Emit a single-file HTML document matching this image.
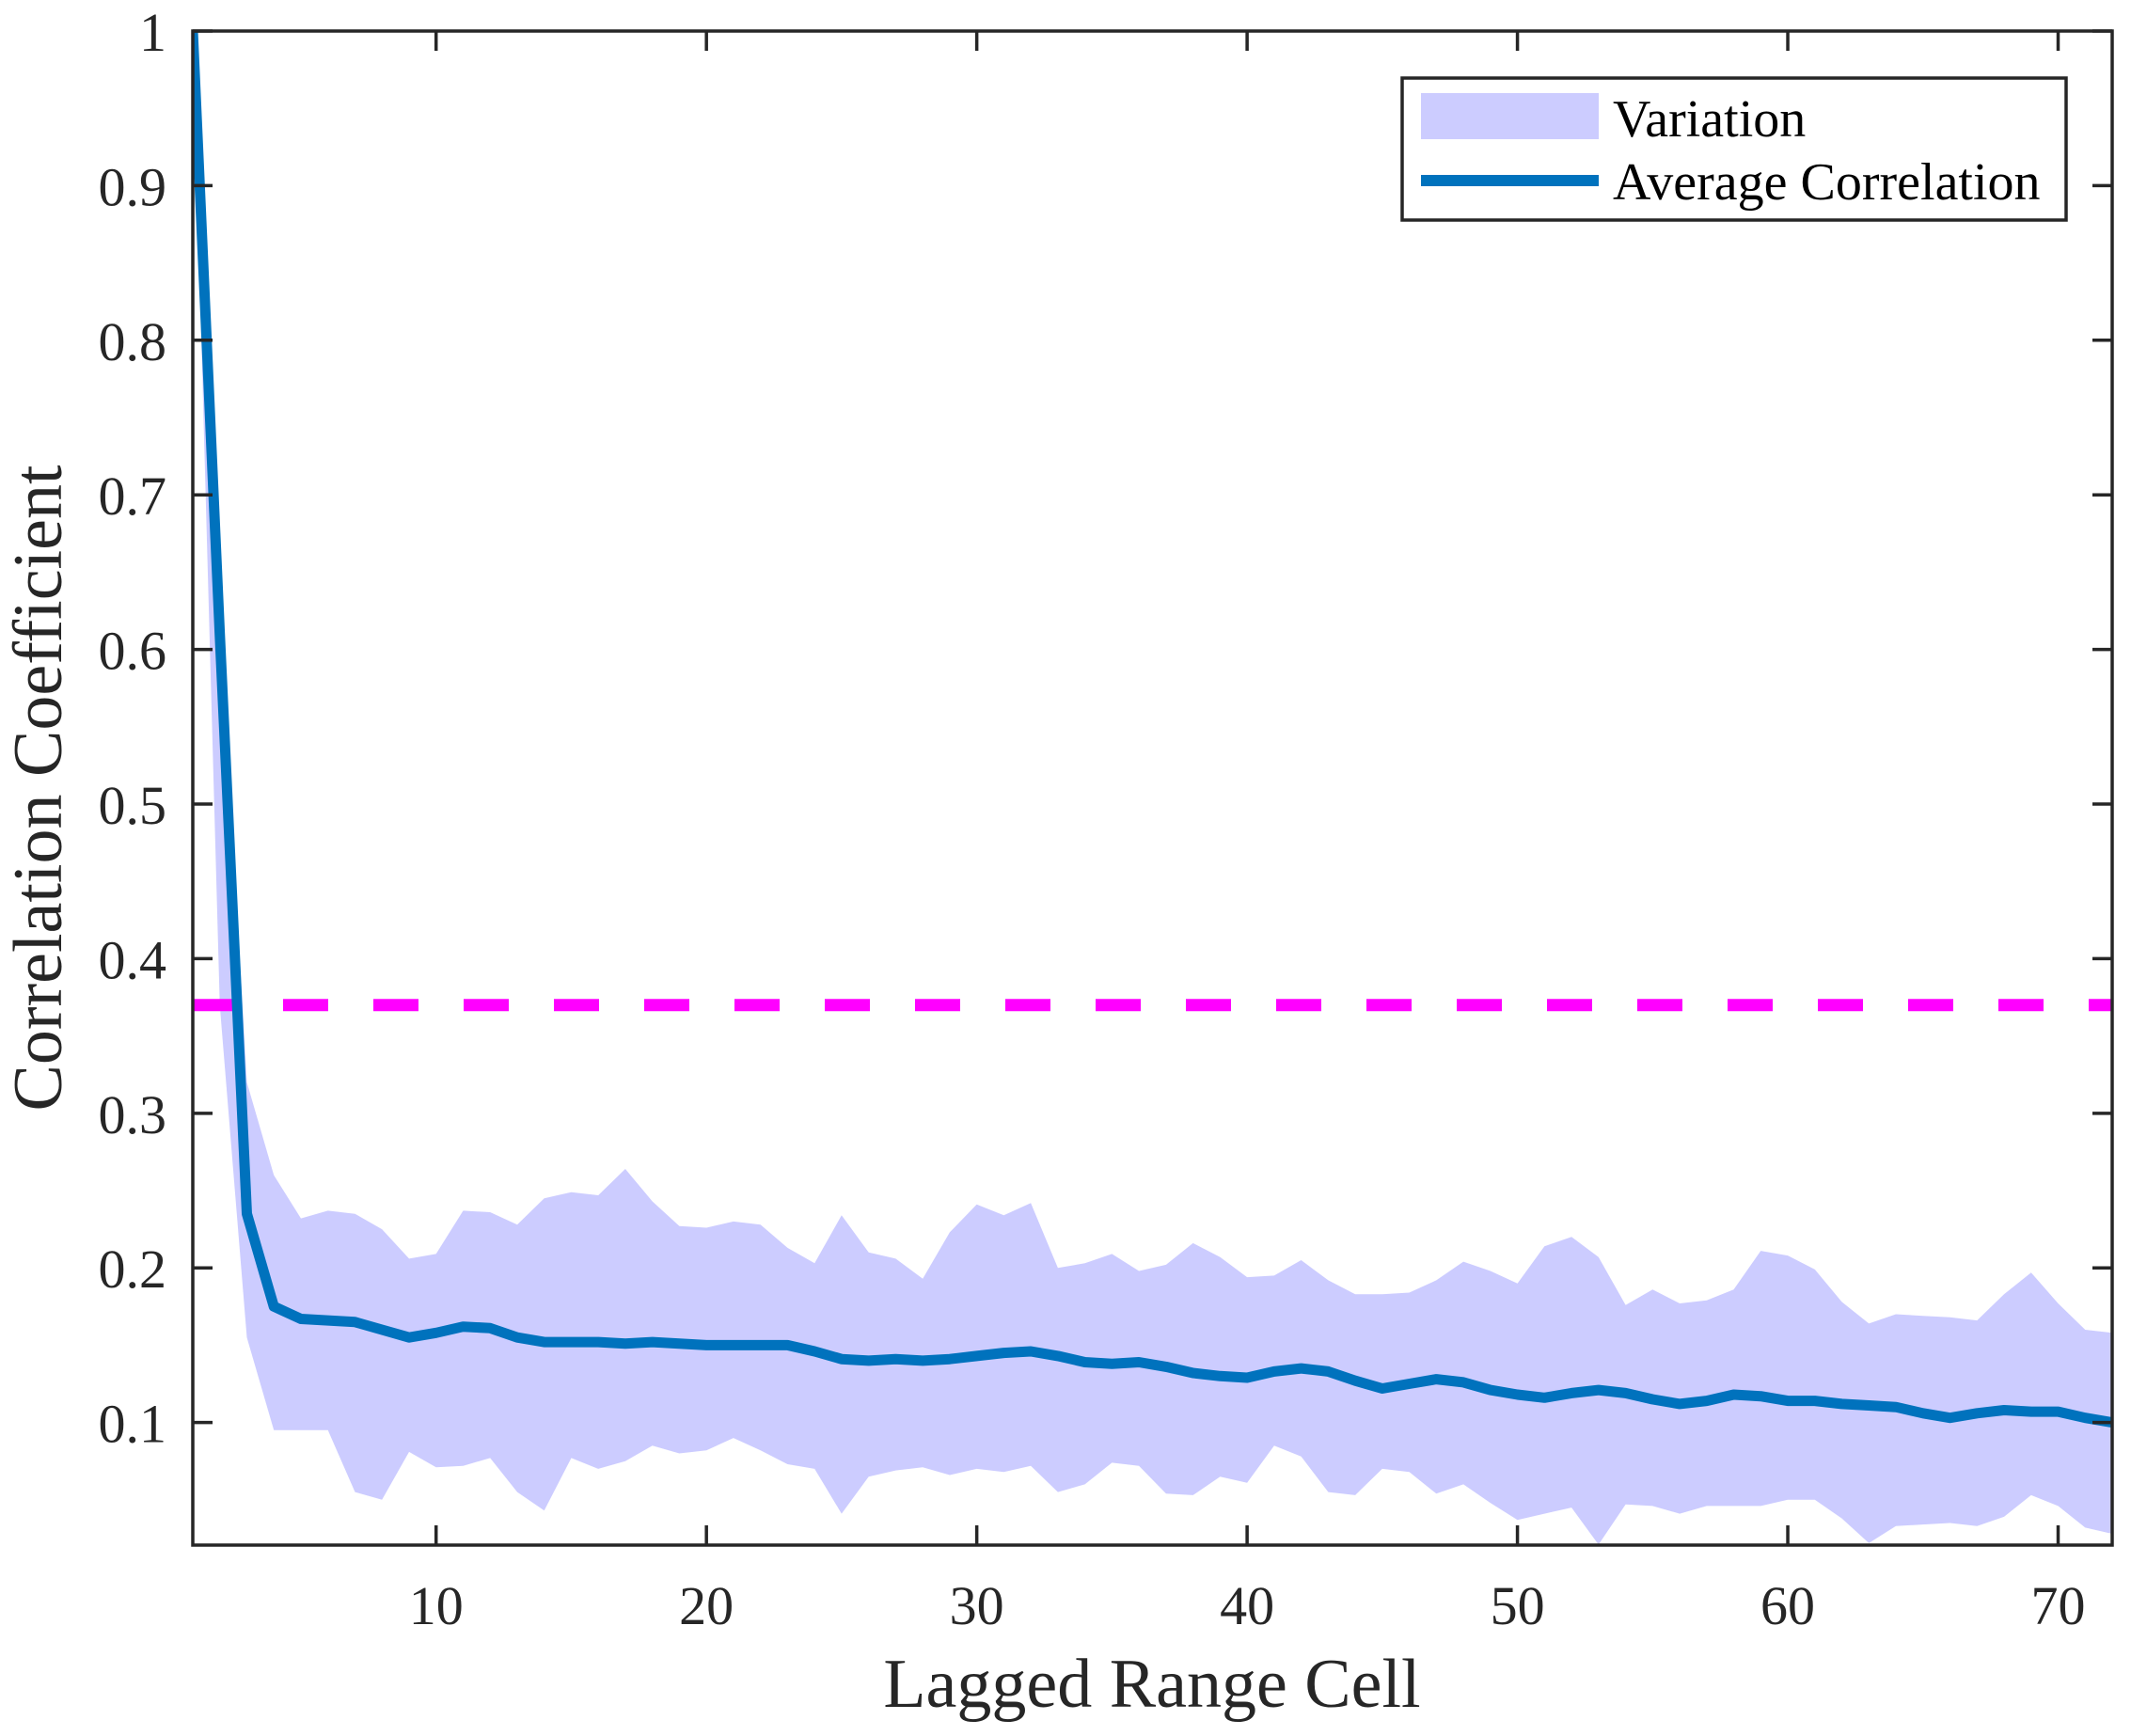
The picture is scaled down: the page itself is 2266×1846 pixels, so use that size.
<!DOCTYPE html>
<html><head><meta charset="utf-8"><style>
html,body{margin:0;padding:0;background:#fff;}
svg{display:block;font-family:"Liberation Serif",serif;}
</style></head><body>
<svg id="chart" width="2266" height="1846" viewBox="0 0 2266 1846" xmlns="http://www.w3.org/2000/svg">
<rect width="2266" height="1846" fill="#fff"/>
<g id="plot"></g>
</svg>
<script>
const lags = Array.from({length:72},(_,i)=>i+1);
const meanCorr = [1.0,0.61,0.235,0.175,0.167,0.166,0.165,0.160,0.155,0.158,0.162,0.161,0.155,0.152,0.152,0.152,0.151,0.152,0.151,0.150,0.150,0.150,0.150,0.146,0.141,0.140,0.141,0.140,0.141,0.143,0.145,0.146,0.143,0.139,0.138,0.139,0.136,0.132,0.130,0.129,0.133,0.135,0.133,0.127,0.122,0.125,0.128,0.126,0.121,0.118,0.116,0.119,0.121,0.119,0.115,0.112,0.114,0.118,0.117,0.114,0.114,0.112,0.111,0.110,0.106,0.103,0.106,0.108,0.107,0.107,0.103,0.100];
const upperBand = [1.0,0.63,0.32,0.26,0.232,0.237,0.235,0.225,0.206,0.209,0.237,0.236,0.228,0.245,0.249,0.247,0.264,0.243,0.227,0.226,0.230,0.228,0.213,0.203,0.234,0.210,0.206,0.193,0.223,0.241,0.234,0.242,0.200,0.203,0.209,0.198,0.202,0.216,0.207,0.194,0.195,0.205,0.192,0.183,0.183,0.184,0.192,0.204,0.198,0.190,0.214,0.220,0.207,0.176,0.186,0.177,0.179,0.186,0.211,0.208,0.199,0.178,0.164,0.170,0.169,0.168,0.166,0.183,0.197,0.177,0.160,0.158];
const lowerBand = [1.0,0.37,0.155,0.095,0.095,0.095,0.055,0.050,0.081,0.071,0.072,0.077,0.055,0.043,0.077,0.070,0.075,0.085,0.080,0.082,0.090,0.082,0.073,0.070,0.041,0.065,0.069,0.071,0.066,0.070,0.068,0.072,0.055,0.060,0.074,0.072,0.054,0.053,0.065,0.061,0.085,0.078,0.055,0.053,0.070,0.068,0.054,0.060,0.048,0.037,0.041,0.045,0.021,0.047,0.046,0.041,0.046,0.046,0.046,0.050,0.050,0.038,0.022,0.033,0.034,0.035,0.033,0.039,0.053,0.046,0.032,0.028];
const threshold = [0.37];
const xTicks = [10,20,30,40,50,60,70];
const yTicks = [0.1,0.2,0.3,0.4,0.5,0.6,0.7,0.8,0.9,1];
const yTickLabels = ["0.1","0.2","0.3","0.4","0.5","0.6","0.7","0.8","0.9","1"];

const L=205,R=2246,T=33,B=1643, XMIN=1,XMAX=72,YMIN=0.0207,YMAX=1;
const sx=v=>L+(v-XMIN)/(XMAX-XMIN)*(R-L);
const sy=v=>B-(v-YMIN)/(YMAX-YMIN)*(B-T);
const NS="http://www.w3.org/2000/svg";
const g=document.getElementById('plot');
function mk(tag,attrs,parent){const e=document.createElementNS(NS,tag);for(const k in attrs)e.setAttribute(k,attrs[k]);(parent||g).appendChild(e);return e;}

const clip=mk('clipPath',{id:'clipArea'});
mk('rect',{x:L,y:T,width:R-L,height:B-T},clip);
const area=mk('g',{'clip-path':'url(#clipArea)'});

let d='M'+lags.map((x,i)=>sx(x).toFixed(1)+','+sy(upperBand[i]).toFixed(1)).join('L');
for(let i=lags.length-1;i>=0;i--) d+='L'+sx(lags[i]).toFixed(1)+','+sy(lowerBand[i]).toFixed(1);
const band=mk('path',{d:d+'Z',fill:'#ccccff',stroke:'none'},area);



const th=mk('line',{x1:L,x2:R,y1:sy(threshold[0]),y2:sy(threshold[0]),stroke:'#ff00ff','stroke-width':13,'stroke-dasharray':'48 48'},area);



const ml=mk('polyline',{points:lags.map((x,i)=>sx(x).toFixed(1)+','+sy(meanCorr[i]).toFixed(1)).join(' '),fill:'none',stroke:'#0072bd','stroke-width':11,'stroke-linejoin':'round'},area);



const ax=mk('g',{stroke:'#262626','stroke-width':3.5,fill:'none'});


mk('rect',{x:L,y:T,width:R-L,height:B-T},ax);
xTicks.forEach(v=>{
  mk('line',{x1:sx(v),x2:sx(v),y1:B,y2:B-21},ax);
  mk('line',{x1:sx(v),x2:sx(v),y1:T,y2:T+21},ax);
  const t=mk('text',{x:sx(v),y:1727,'text-anchor':'middle','font-size':58,fill:'#262626'});
  t.textContent=v;
  
  
});
yTicks.forEach((v,i)=>{
  mk('line',{x1:L,x2:L+21,y1:sy(v),y2:sy(v)},ax);
  mk('line',{x1:R,x2:R-21,y1:sy(v),y2:sy(v)},ax);
  const t=mk('text',{x:177,y:sy(v)+21,'text-anchor':'end','font-size':58,fill:'#262626'});
  t.textContent=yTickLabels[i];
  
  
});
</script>
<svg style="position:absolute;left:0;top:0" width="2266" height="1846" xmlns="http://www.w3.org/2000/svg" font-family="Liberation Serif, serif">
<text x="1225" y="1815" text-anchor="middle" font-size="74" fill="#262626">Lagged Range Cell</text>
<text transform="translate(65,838) rotate(-90)" text-anchor="middle" font-size="74" fill="#262626">Correlation Coefficient</text>
<g>
<rect x="1491" y="83" width="706" height="151" fill="#fff" stroke="#262626" stroke-width="3.5"/>
<rect x="1511" y="99" width="189" height="49" fill="#ccccff"/>
<text x="1715" y="145" font-size="56" fill="#000">Variation</text>
<line x1="1511" x2="1700" y1="192" y2="192" stroke="#0072bd" stroke-width="12"/>
<text x="1715" y="212" font-size="56" fill="#000">Average Correlation</text>
</g>
</svg>
</body></html>
